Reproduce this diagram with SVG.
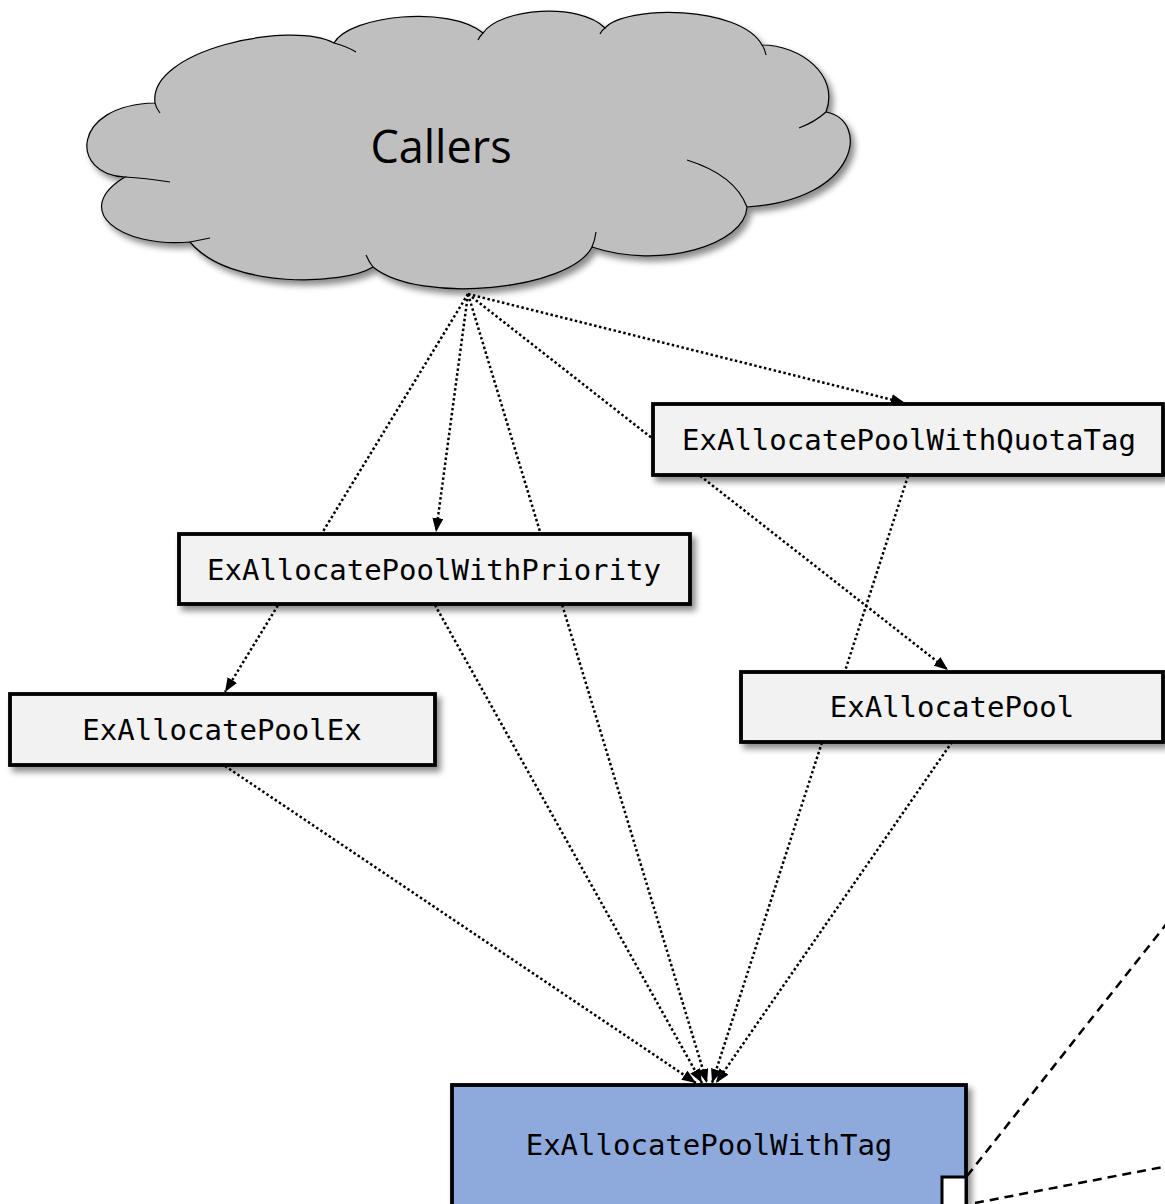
<svg xmlns="http://www.w3.org/2000/svg" width="1165" height="1204" viewBox="0 0 1165 1204">
  <defs>
    <style>
      .box { fill: #F2F2F2; stroke: #000; stroke-width: 3.8; }
      .lbl { font-family: "DejaVu Sans Mono", "Liberation Mono", monospace; font-size: 29px; fill: #000; text-anchor: middle; }
      .call { stroke: #000; stroke-width: 2.5; stroke-dasharray: 2.5 2.5; fill: none; }
      .dash { stroke: #000; stroke-width: 2.5; stroke-dasharray: 9 6; fill: none; }
      .inner { fill: none; stroke: #000; stroke-width: 1.2; }
    </style>
    <filter id="shadow" x="-10%" y="-10%" width="130%" height="140%">
      <feDropShadow dx="4" dy="5" stdDeviation="3" flood-color="#000" flood-opacity="0.45"/>
    </filter>
    <marker id="arrow" viewBox="0 0 14 11" refX="14" refY="5.5" markerWidth="14" markerHeight="11" markerUnits="userSpaceOnUse" orient="auto">
      <path d="M0,0 L14,5.5 L0,11 z" fill="#000"/>
    </marker>
  </defs>

  <!-- Callers cloud -->
  <g id="callers">
    <path filter="url(#shadow)" fill="#BFBFBF" stroke="#000" stroke-width="1.2"
      d="M155,103
         C148,50 290,20 334,43
         C350,15 450,5 483,33
         C500,8 580,2 605,28
         C625,5 740,5 762,45
         C800,45 840,75 826,112
         C870,120 860,200 747,207
         C745,245 660,270 592,247
         C570,290 420,305 373,267
         C345,285 230,290 190,242
         C120,248 70,210 125,177
         C70,175 70,105 155,103 Z"/>
    <path class="inner" d="M155,103 Q156,108 160,113"/>
    <path class="inner" d="M334,43 Q346,46 356,52"/>
    <path class="inner" d="M483,33 Q480,36 478,40"/>
    <path class="inner" d="M605,28 Q602,30 600,34"/>
    <path class="inner" d="M762,45 Q765,49 766,55"/>
    <path class="inner" d="M826,112 Q815,122 799,128"/>
    <path class="inner" d="M747,207 Q735,175 687,160"/>
    <path class="inner" d="M592,247 Q595,240 596,232"/>
    <path class="inner" d="M373,267 Q369,262 366,255"/>
    <path class="inner" d="M190,242 Q200,240 210,238"/>
    <path class="inner" d="M125,177 Q145,178 170,182"/>
    <text x="441" y="163" font-family="'Open Sans', 'Liberation Sans', sans-serif" font-size="45" text-anchor="middle" fill="#000">Callers</text>
  </g>

  <!-- call edges -->
  <g id="connectors">
    <line class="call" x1="468" y1="294" x2="905" y2="403" marker-end="url(#arrow)"/>
    <line class="call" x1="468" y1="294" x2="436" y2="532" marker-end="url(#arrow)"/>
    <line class="call" x1="468" y1="294" x2="225" y2="692" marker-end="url(#arrow)"/>
    <line class="call" x1="468" y1="294" x2="707" y2="1083" marker-end="url(#arrow)"/>
    <line class="call" x1="468" y1="294" x2="948" y2="670" marker-end="url(#arrow)"/>
    <line class="call" x1="908" y1="476" x2="712" y2="1083" marker-end="url(#arrow)"/>
    <line class="call" x1="952" y1="742" x2="716" y2="1083" marker-end="url(#arrow)"/>
    <line class="call" x1="225" y1="766" x2="696" y2="1083" marker-end="url(#arrow)"/>
    <line class="call" x1="435" y1="605" x2="702" y2="1083" marker-end="url(#arrow)"/>
    <line class="dash" x1="967" y1="1176" x2="1168" y2="922"/>
    <line class="dash" x1="975" y1="1203" x2="1168" y2="1166"/>
  </g>

  <g id="quotatag">
    <rect class="box" filter="url(#shadow)" x="653" y="404" width="510" height="71"/>
    <text class="lbl" x="909" y="450">ExAllocatePoolWithQuotaTag</text>
  </g>

  <g id="priority">
    <rect class="box" filter="url(#shadow)" x="179" y="534" width="511" height="70"/>
    <text class="lbl" x="434" y="580">ExAllocatePoolWithPriority</text>
  </g>

  <g id="poolex">
    <rect class="box" filter="url(#shadow)" x="10" y="694" width="425" height="71"/>
    <text class="lbl" x="222" y="740">ExAllocatePoolEx</text>
  </g>

  <g id="pool">
    <rect class="box" filter="url(#shadow)" x="741" y="672" width="422" height="70"/>
    <text class="lbl" x="952" y="717">ExAllocatePool</text>
  </g>

  <g id="withtag">
    <rect filter="url(#shadow)" x="452" y="1085" width="514" height="130" fill="#8EA9DB" stroke="#000" stroke-width="3.8"/>
    <text class="lbl" x="709" y="1155">ExAllocatePoolWithTag</text>
    <rect x="942" y="1177" width="24" height="30" fill="#FFF" stroke="#000" stroke-width="3"/>
  </g>
</svg>
